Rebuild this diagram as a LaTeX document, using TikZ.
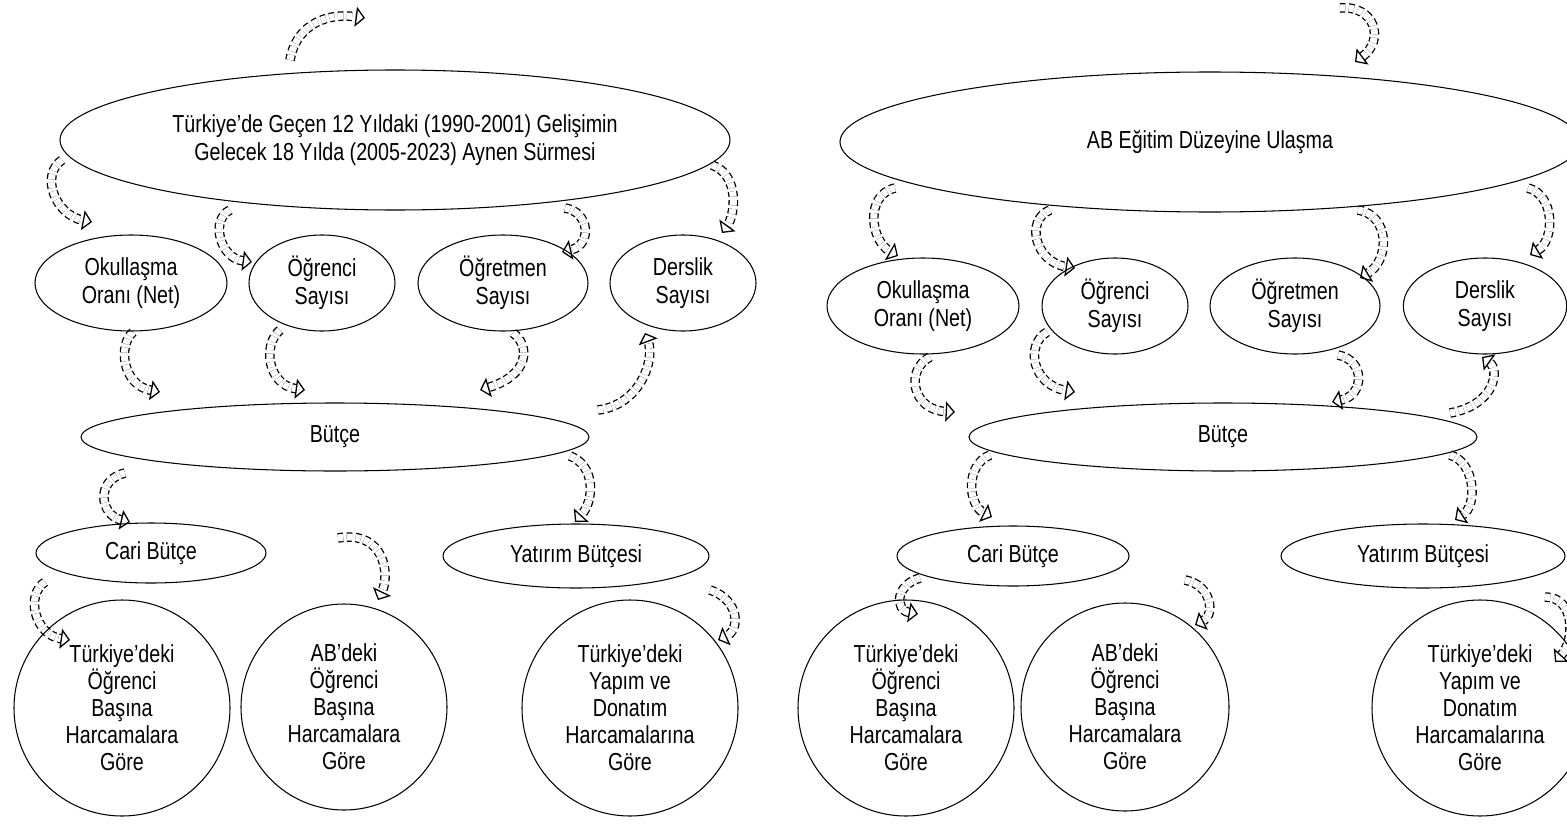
\documentclass[tikz,border=0pt]{standalone}
\usepackage{fontspec}
\setmainfont{Liberation Sans}[FakeStretch=0.8]
\usetikzlibrary{shapes.geometric, arrows.meta}
\pgfdeclarelayer{bg}
\pgfsetlayers{bg,main}

\tikzset{
  oval/.style={draw, ellipse, line width=0.9pt, inner sep=0pt, align=center, font=\fontsize{21}{24}\selectfont},
  disc/.style={draw, circle, line width=0.9pt, inner sep=0pt, align=center, font=\fontsize{21}{23}\selectfont},
  curly/.style={double, double distance=6pt, line width=1.1pt, dash pattern=on 4.5pt off 3pt,
    -{Triangle[open, length=8pt, width=17pt]}}
}

\begin{document}
\begin{tikzpicture}[x=0.03cm, y=-0.03cm]
  \useasboundingbox (0,0) rectangle (1567,839);

  % left scenario: ovals
  \node[oval, minimum width=20.1cm, minimum height=4.2cm] (goalL) at (395,140)
    {Türkiye’de Geçen 12 Yıldaki (1990-2001) Gelişimin\\Gelecek 18 Yılda (2005-2023) Aynen Sürmesi};
  \node[oval, minimum width=5.76cm, minimum height=2.88cm] (okulL) at (131,283) {Okullaşma\\Oranı (Net)};
  \node[oval, minimum width=4.38cm, minimum height=2.88cm] (ogrenciL) at (322,283) {Öğrenci\\Sayısı};
  \node[oval, minimum width=5.1cm, minimum height=2.88cm] (ogretmenL) at (503,283) {Öğretmen\\Sayısı};
  \node[oval, minimum width=4.38cm, minimum height=2.88cm] (dersL) at (683,283) {Derslik\\Sayısı};
  \node[oval, minimum width=15.24cm, minimum height=2.04cm] (butceL) at (335,437) {Bütçe};
  \node[oval, minimum width=6.9cm, minimum height=1.8cm] (cariL) at (151,553) {Cari Bütçe};
  \node[oval, minimum width=7.98cm, minimum height=1.92cm] (yatirimL) at (576,556) {Yatırım Bütçesi};

  % left scenario: circles
  \node[disc, minimum size=6.48cm] (c1L) at (122,708) {Türkiye’deki\\Öğrenci\\Başına\\Harcamalara\\Göre};
  \node[disc, minimum size=6.18cm] (c2L) at (344,707) {AB’deki\\Öğrenci\\Başına\\Harcamalara\\Göre};
  \node[disc, minimum size=6.48cm] (c3L) at (630,708) {Türkiye’deki\\Yapım ve\\Donatım\\Harcamalarına\\Göre};

  % right scenario: ovals
  \node[oval, minimum width=22.2cm, minimum height=4.2cm] (goalR) at (1210,142) {AB Eğitim Düzeyine Ulaşma};
  \node[oval, minimum width=5.76cm, minimum height=2.88cm] (okulR) at (923,306) {Okullaşma\\Oranı (Net)};
  \node[oval, minimum width=4.38cm, minimum height=2.88cm] (ogrenciR) at (1115,306) {Öğrenci\\Sayısı};
  \node[oval, minimum width=5.1cm, minimum height=2.88cm] (ogretmenR) at (1295,306) {Öğretmen\\Sayısı};
  \node[oval, minimum width=4.9cm, minimum height=2.88cm] (dersR) at (1485,306) {Derslik\\Sayısı};
  \node[oval, minimum width=15.24cm, minimum height=2.04cm] (butceR) at (1223,437) {Bütçe};
  \node[oval, minimum width=6.96cm, minimum height=1.8cm] (cariR) at (1013,556) {Cari Bütçe};
  \node[oval, minimum width=8.52cm, minimum height=1.92cm] (yatirimR) at (1423,556) {Yatırım Bütçesi};

  % right scenario: circles
  \node[disc, minimum size=6.48cm] (c1R) at (906,708) {Türkiye’deki\\Öğrenci\\Başına\\Harcamalara\\Göre};
  \node[disc, minimum size=6.24cm] (c2R) at (1125,707) {AB’deki\\Öğrenci\\Başına\\Harcamalara\\Göre};
  \node[disc, minimum size=6.48cm] (c3R) at (1480,708) {Türkiye’deki\\Yapım ve\\Donatım\\Harcamalarına\\Göre};

  \begin{pgfonlayer}{bg}
  % left scenario: curved dashed arrows
  \draw[curly] ([shift={(-105,-80)}]goalL.center) .. controls +(5,-30) and +(-45,-6) .. ([shift={(-30,-122)}]goalL.center);
  \draw[curly] ([shift={(-333,20)}]goalL.center) .. controls +(-22,15) and +(-37,-7) .. ([shift={(-39,-61)}]okulL.center);
  \draw[curly] ([shift={(-165,70)}]goalL.center) .. controls +(-20,10) and +(-32,-4) .. ([shift={(-70,-21)}]ogrenciL.center);
  \draw[curly] ([shift={(170,68)}]goalL.center) .. controls +(25,4) and +(30,-7) .. ([shift={(59,-31)}]ogretmenL.center);
  \draw[curly] ([shift={(317,25)}]goalL.center) .. controls +(28,10) and +(13,-18) .. ([shift={(39,-50)}]dersL.center);
  \draw[curly] ([shift={(2,49)}]okulL.center) .. controls +(-15,13) and +(-38,-7) .. ([shift={(-175,-45)}]butceL.center);
  \draw[curly] ([shift={(-42,47)}]ogrenciL.center) .. controls +(-18,15) and +(-37,-5) .. ([shift={(-30,-47)}]butceL.center);
  \draw[curly] ([shift={(10,50)}]ogretmenL.center) .. controls +(17,12) and +(50,-15) .. ([shift={(145,-47)}]butceL.center);
  \draw[curly] ([shift={(263,-27)}]butceL.center) .. controls +(42,-5) and +(10,27) .. ([shift={(-38,50)}]dersL.center);
  \draw[curly] ([shift={(-210,36)}]butceL.center) .. controls +(-30,7) and +(-30,-7) .. ([shift={(-21,-31)}]cariL.center);
  \draw[curly] ([shift={(235,19)}]butceL.center) .. controls +(25,9) and +(20,-22) .. ([shift={(-1,-34)}]yatirimL.center);
  \draw[curly] ([shift={(-106,29)}]cariL.center) .. controls +(-20,13) and +(-35,-5) .. ([shift={(-52,-68)}]c1L.center);
  \draw[curly] ([shift={(187,-15)}]cariL.center) .. controls +(47,-8) and +(12,-25) .. ([shift={(34,-107)}]c2L.center);
  \draw[curly] ([shift={(134,34)}]yatirimL.center) .. controls +(30,10) and +(22,-10) .. ([shift={(88,-68)}]c3L.center);

  % right scenario: curved dashed arrows
  \draw[curly] ([shift={(130,-134)}]goalR.center) .. controls +(35,-3) and +(30,-22) .. ([shift={(145,-80)}]goalR.center);
  \draw[curly] ([shift={(-315,46)}]goalR.center) .. controls +(-30,7) and +(-28,-16) .. ([shift={(-25,-50)}]okulR.center);
  \draw[curly] ([shift={(-160,68)}]goalR.center) .. controls +(-25,10) and +(-40,-6) .. ([shift={(-40,-38)}]ogrenciR.center);
  \draw[curly] ([shift={(148,68)}]goalR.center) .. controls +(32,5) and +(30,-18) .. ([shift={(65,-28)}]ogretmenR.center);
  \draw[curly] ([shift={(318,46)}]goalR.center) .. controls +(27,7) and +(25,-15) .. ([shift={(45,-51)}]dersR.center);
  \draw[curly] ([shift={(7,51)}]okulR.center) .. controls +(-25,13) and +(-43,-2) .. ([shift={(-268,-25)}]butceR.center);
  \draw[curly] ([shift={(-68,26)}]ogrenciR.center) .. controls +(-22,13) and +(-43,-7) .. ([shift={(-148,-45)}]butceR.center);
  \draw[curly] ([shift={(43,49)}]ogretmenR.center) .. controls +(27,5) and +(33,-7) .. ([shift={(109,-35)}]butceR.center);
  \draw[curly] ([shift={(227,-24)}]butceR.center) .. controls +(45,-8) and +(18,13) .. ([shift={(-3,51)}]dersR.center);
  \draw[curly] ([shift={(-233,18)}]butceR.center) .. controls +(-25,10) and +(-24,-12) .. ([shift={(-21,-39)}]cariR.center);
  \draw[curly] ([shift={(227,18)}]butceR.center) .. controls +(25,7) and +(23,-15) .. ([shift={(32,-36)}]yatirimR.center);
  \draw[curly] ([shift={(-93,22)}]cariR.center) .. controls +(-25,7) and +(-23,-4) .. ([shift={(12,-94)}]c1R.center);
  \draw[curly] ([shift={(172,24)}]cariR.center) .. controls +(27,5) and +(20,-10) .. ([shift={(70,-82)}]c2R.center);
  \draw[curly] ([shift={(122,41)}]yatirimR.center) .. controls +(30,0) and +(20,-22) .. ([shift={(75,-46)}]c3R.center);
  \end{pgfonlayer}
\end{tikzpicture}
\end{document}
